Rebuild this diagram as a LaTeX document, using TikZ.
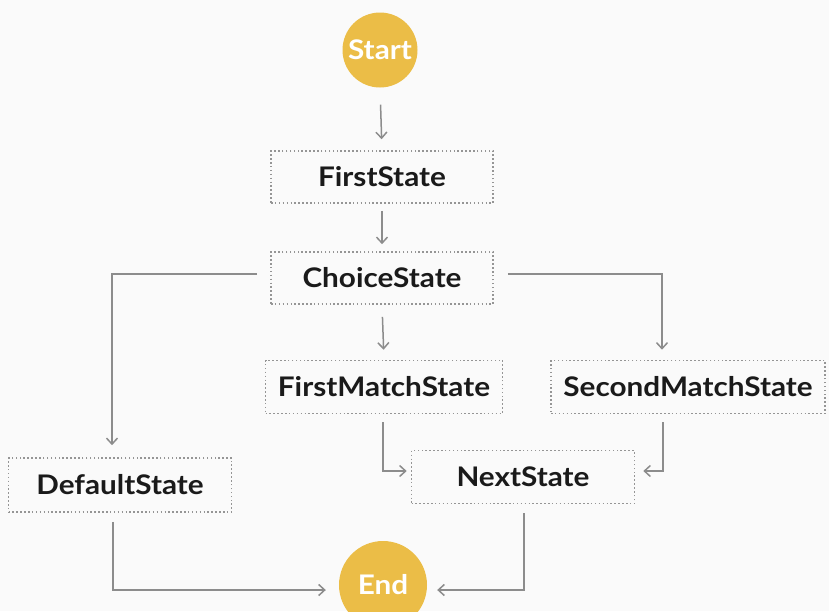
\documentclass[tikz,border=0pt]{standalone}
\usepackage{fontspec}
\setmainfont{Lato}
\newfontfamily\statefont{Lato}[FakeStretch=1.1]
\usetikzlibrary{arrows.meta,calc}
\definecolor{stateyellow}{HTML}{EBBD47}
\definecolor{linegray}{HTML}{8C8C8C}
\definecolor{dotgray}{HTML}{959595}
\definecolor{bggray}{HTML}{FAFAFA}
\definecolor{textdark}{HTML}{1A1A1A}
\tikzset{
  statebox/.style={draw=dotgray, line width=1.6pt, dash pattern=on 1.5pt off 2.4pt,
    minimum height=52pt, inner sep=0pt, font=\statefont\fontsize{27}{30}\selectfont\bfseries, text=textdark},
  terminal/.style={circle, fill=stateyellow, inner sep=0pt, text=white,
    font=\statefont\fontsize{27}{30}\selectfont\bfseries},
  conn/.style={draw=linegray, line width=1.5pt, -{Straight Barb[length=6pt,width=11pt,line width=1.5pt]}}
}
\begin{document}
\begin{tikzpicture}[x=1pt,y=-1pt]
\clip (0,0) rectangle (829,611);
\fill[bggray] (0,0) rectangle (829,611);
\useasboundingbox (0,0) rectangle (829,611);
\node[terminal, minimum size=75pt] (start) at (380,50) {Start};
\node[statebox, minimum width=222pt] (first) at (382,177) {FirstState};
\node[statebox, minimum width=222pt] (choice) at (382,278) {ChoiceState};
\node[statebox, minimum width=237pt, minimum height=53pt] (fm) at (384,387) {FirstMatchState};
\node[statebox, minimum width=274pt, minimum height=53pt] (sm) at (688,387) {SecondMatchState};
\node[statebox, minimum width=223pt, minimum height=54pt] (def) at (120,485) {DefaultState};
\node[statebox, minimum width=223pt, minimum height=53pt] (next) at (523,477) {NextState};
\node[terminal, minimum size=88pt] (end) at (383,585) {End};
% connector bend points
\coordinate (cl) at (112,274);
\coordinate (cr) at (662,274);
\coordinate (fmb) at (383,471);
\coordinate (smb) at (663,471);
\coordinate (dfb) at (113,590);
\coordinate (nxb) at (524,590);
\draw[conn, shorten <=17pt, shorten >=11pt] (start.south) -- (first.north);
\draw[conn, shorten <=7pt, shorten >=7pt] (first.south) -- (choice.north);
\draw[conn, shorten <=12pt, shorten >=10pt] (choice.south) -- (fm.north);
\draw[conn, shorten <=13pt, shorten >=12pt] (choice.west |- cl) -- (cl) -- (cl |- def.north);
\draw[conn, shorten <=14pt, shorten >=10pt] (choice.east |- cr) -- (cr) -- (cr |- sm.north);
\draw[conn, shorten <=8pt, shorten >=4pt] (fmb |- fm.south) -- (fmb) -- (next.west |- fmb);
\draw[conn, shorten <=8pt, shorten >=8pt] (smb |- sm.south) -- (smb) -- (next.east |- smb);
\draw[conn, shorten <=9pt, shorten >=13pt] (dfb |- def.south) -- (dfb) -- (end.west |- dfb);
\draw[conn, shorten <=9pt, shorten >=10pt] (nxb |- next.south) -- (nxb) -- (end.east |- nxb);
\end{tikzpicture}
\end{document}
